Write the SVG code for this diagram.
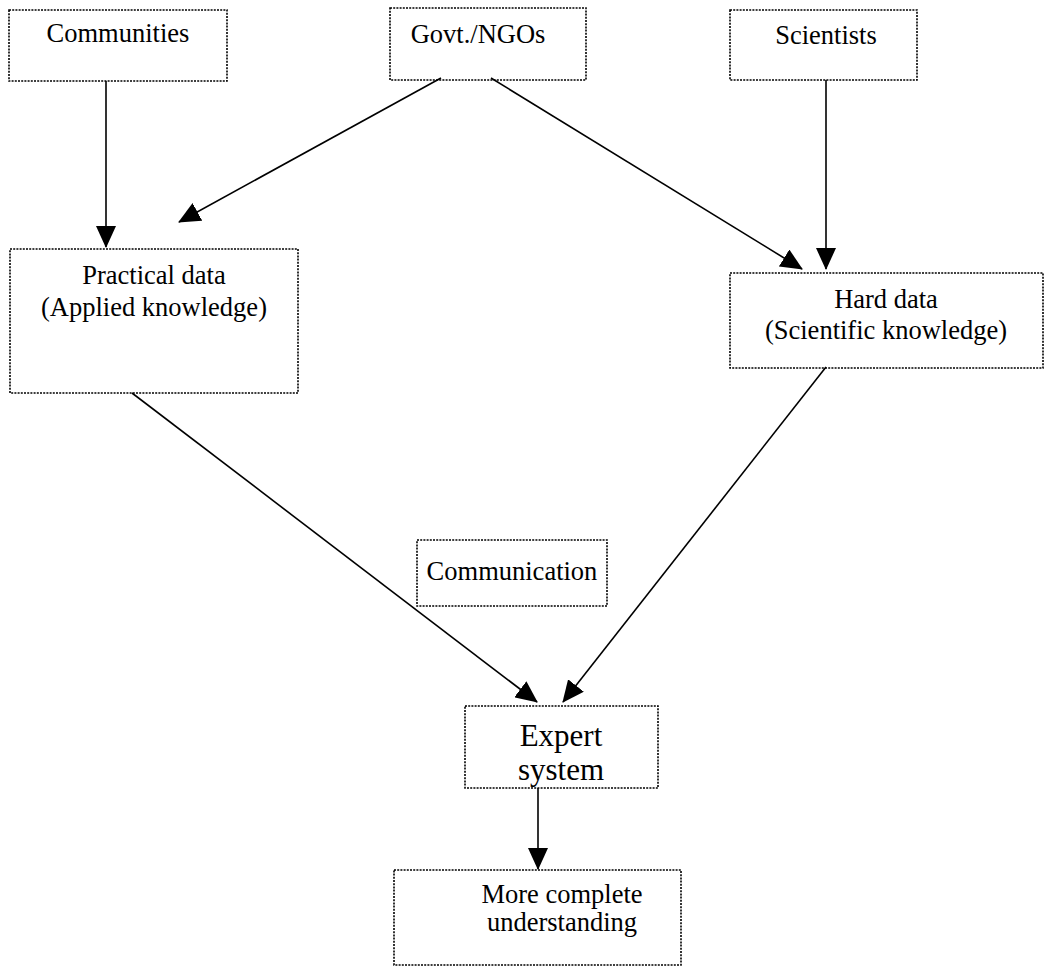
<svg xmlns="http://www.w3.org/2000/svg" width="1048" height="967" viewBox="0 0 1048 967">
<style>
.box{fill:#fff;stroke:#000;stroke-width:1.6;stroke-dasharray:2 1.2}
.t{font-family:"Liberation Serif","Times New Roman",Times,serif;font-size:26.5px;fill:#000;text-anchor:middle}
.big{font-size:31px}
.c{stroke:#000;stroke-width:1.6;fill:none;marker-end:url(#ah)}
</style>
<defs>
<marker id="ah" viewBox="0 0 22 20" markerWidth="22" markerHeight="20" refX="21" refY="10" orient="auto" markerUnits="userSpaceOnUse">
<path d="M0,0 L22,10 L0,20 z" fill="#000"/>
</marker>
</defs>
<rect width="1048" height="967" fill="#fff"/>
<g id="communities"><rect class="box" x="9" y="10" width="218" height="71"/><text class="t" x="118" y="42">Communities</text></g>
<g id="govt"><rect class="box" x="390" y="8" width="196" height="72"/><text class="t" x="478" y="43">Govt./NGOs</text></g>
<g id="scientists"><rect class="box" x="730" y="10" width="187" height="70"/><text class="t" x="826" y="44">Scientists</text></g>
<g id="practical"><rect class="box" x="10" y="249" width="288" height="144"/><text class="t" x="154" y="284">Practical data</text><text class="t" x="154" y="316">(Applied knowledge)</text></g>
<g id="hard"><rect class="box" x="730" y="273" width="313" height="95"/><text class="t" x="886" y="308">Hard data</text><text class="t" x="886" y="339">(Scientific knowledge)</text></g>
<g id="communication"><rect class="box" x="417" y="540" width="190" height="66"/><text class="t" x="512" y="580">Communication</text></g>
<g id="expert"><rect class="box" x="465" y="706" width="193" height="82"/><text class="t big" x="561" y="746">Expert</text><text class="t big" x="561" y="780">system</text></g>
<g id="understanding"><rect class="box" x="394" y="870" width="287" height="95"/><text class="t" x="562" y="903">More complete</text><text class="t" x="562" y="931">understanding</text></g>
<g id="connectors">
<line class="c" x1="106" y1="81" x2="106" y2="247"/>
<line class="c" x1="441" y1="78" x2="179" y2="222"/>
<line class="c" x1="491" y1="78" x2="802" y2="269"/>
<line class="c" x1="826" y1="80" x2="826" y2="269"/>
<line class="c" x1="132" y1="393" x2="537" y2="702"/>
<line class="c" x1="826" y1="367" x2="563" y2="702"/>
<line class="c" x1="538" y1="788" x2="538" y2="869"/>
</g>
</svg>
